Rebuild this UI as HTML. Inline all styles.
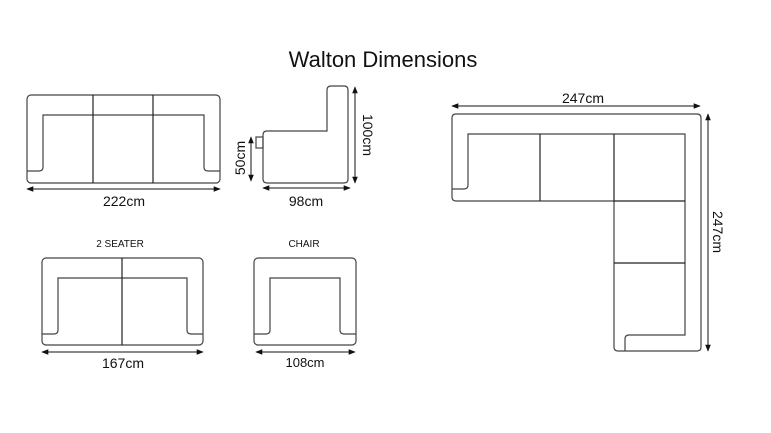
<!DOCTYPE html>
<html><head><meta charset="utf-8"><style>
html,body{margin:0;padding:0;background:#fff;}
svg{display:block;}
text{font-family:"Liberation Sans",Arial,sans-serif;fill:#111;}
</style></head><body>
<svg width="771" height="433" viewBox="0 0 771 433" xmlns="http://www.w3.org/2000/svg">
<defs>
<marker id="a" viewBox="0 0 10 10" refX="9" refY="5" markerWidth="7" markerHeight="7" orient="auto-start-reverse"><path d="M0,1 L10,5 L0,9z" fill="#111"/></marker>
</defs>
<rect width="771" height="433" fill="#fff"/>
<text x="383" y="67" font-size="22" text-anchor="middle">Walton Dimensions</text>

<g fill="none" stroke="#444" stroke-width="1.2">
<rect x="27" y="95" width="193" height="88" rx="4"/>
<path d="M27,171 H39 Q43,171 43,167 V115 H204 V167 Q204,171 208,171 H220"/>
<path d="M93,95 V183 M153,95 V183" stroke="#222"/>
<path d="M263,135 Q263,131 267,131 H327 V90 Q327,86 331,86 H344 Q348,86 348,90 V179 Q348,183 344,183 H267 Q263,183 263,179 Z"/>
<rect x="256" y="137" width="7" height="11"/>
<path d="M456,114 H697 Q701,114 701,118 V347 Q701,351 697,351 H618 Q614,351 614,347 V201 H456 Q452,201 452,197 V118 Q452,114 456,114 Z"/>
<path d="M452,189 H464 Q468,189 468,185 V134 H685 V335 H629 Q625,335 625,339 V351"/>
<path d="M540,134 V201 M614,134 V201 H685 M614,263 H685" stroke="#222"/>
<rect x="42" y="258" width="161" height="87" rx="4"/>
<path d="M42,334 H54 Q58,334 58,330 V278 H187 V330 Q187,334 191,334 H203"/>
<path d="M122,258 V345" stroke="#222"/>
<rect x="254" y="258" width="102" height="87" rx="4"/>
<path d="M254,334 H266 Q270,334 270,330 V278 H340 V330 Q340,334 344,334 H356"/>
</g>

<g stroke="#111" stroke-width="1" marker-start="url(#a)" marker-end="url(#a)">
<line x1="27" y1="189" x2="220" y2="189"/>
<line x1="263" y1="188" x2="350" y2="188"/>
<line x1="251" y1="137" x2="251" y2="181"/>
<line x1="355" y1="87" x2="355" y2="183"/>
<line x1="452" y1="106" x2="700" y2="106"/>
<line x1="708" y1="114" x2="708" y2="351"/>
<line x1="42" y1="352" x2="203" y2="352"/>
<line x1="256" y1="352" x2="355" y2="352"/>
</g>

<text x="124" y="206" font-size="14" text-anchor="middle">222cm</text>
<text x="306" y="206" font-size="14" text-anchor="middle">98cm</text>
<text transform="translate(245,158) rotate(-90)" font-size="14" text-anchor="middle">50cm</text>
<text transform="translate(363,135) rotate(90)" font-size="14" text-anchor="middle">100cm</text>
<text x="583" y="103" font-size="14" text-anchor="middle">247cm</text>
<text transform="translate(713,232) rotate(90)" font-size="14" text-anchor="middle">247cm</text>
<text x="120" y="247" font-size="10" text-anchor="middle">2 SEATER</text>
<text x="304" y="247" font-size="10" text-anchor="middle">CHAIR</text>
<text x="123" y="368" font-size="14" text-anchor="middle">167cm</text>
<text x="305" y="367" font-size="13" text-anchor="middle">108cm</text>
</svg>
</body></html>
